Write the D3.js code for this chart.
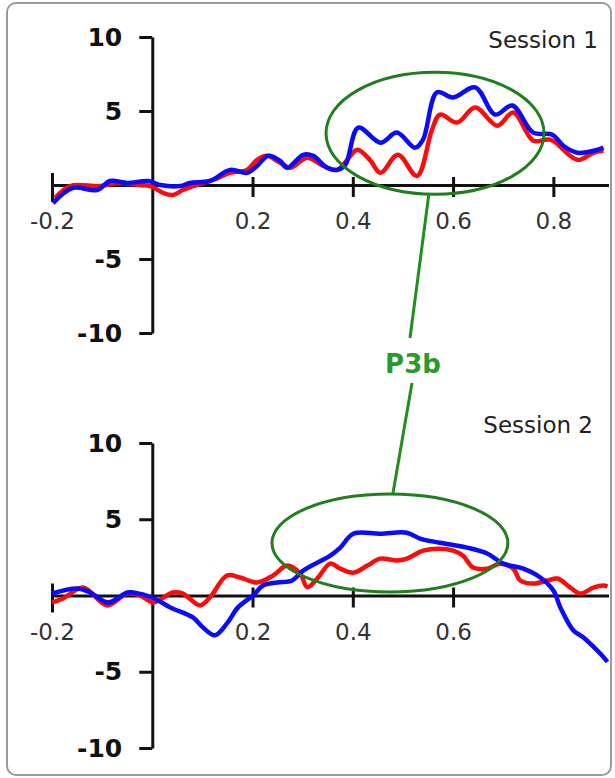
<!DOCTYPE html>
<html>
<head>
<meta charset="utf-8">
<script src="https://cdn.jsdelivr.net/npm/d3@7"></script>
<style>
body { margin: 0; background: #fff; }
</style>
</head>
<body>
<div id="picture"></div>
<script>
// session 1, [time (s), amplitude]
var s1Blue = [[-0.198,-1.22],[-0.158,-0.20],[-0.110,-0.34],[-0.084,0.27],[-0.050,0.14],[-0.008,0.27],
    [0.016,0],[0.056,-0.07],[0.075,0.14],[0.115,0.27],[0.155,1.02],[0.189,0.82],[0.209,1.29],[0.231,1.97],
    [0.255,1.63],[0.269,1.16],[0.301,2.04],[0.321,1.97],[0.349,1.16],[0.369,1.02],[0.385,1.36],[0.411,3.88],
    [0.455,2.86],[0.488,3.54],[0.524,2.52],[0.540,3.06],[0.568,6.26],[0.600,5.92],[0.644,6.60],[0.684,4.76],
    [0.718,5.37],[0.760,3.54],[0.798,3.40],[0.820,2.65],[0.848,2.18],[0.880,2.31],[0.900,2.52]];
var s1Red = [[-0.194,-0.88],[-0.164,-0.07],[-0.104,-0.07],[-0.070,0.14],[-0.024,0],[-0.004,-0.07],
    [0.022,-0.54],[0.041,-0.68],[0.061,-0.34],[0.089,0],[0.121,0.34],[0.155,0.82],[0.189,1.02],[0.209,1.70],
    [0.229,1.97],[0.255,1.50],[0.275,1.16],[0.309,1.84],[0.341,1.29],[0.369,1.02],[0.389,1.70],[0.409,2.38],
    [0.434,1.70],[0.455,0.82],[0.490,2.04],[0.528,0.61],[0.558,3.74],[0.574,4.76],[0.608,4.22],[0.644,5.24],
    [0.688,4.01],[0.720,4.90],[0.760,2.99],[0.794,3.06],[0.848,1.70],[0.880,2.18],[0.900,2.31]];
// session 2
var s2Blue = [[-0.200,0.13],[-0.150,0.46],[-0.124,0.20],[-0.088,-0.46],[-0.050,0.20],[-0.038,0.20],
    [0.000,-0.13],[0.036,-0.78],[0.081,-1.44],[0.101,-2.09],[0.125,-2.61],[0.149,-1.83],[0.171,-0.78],
    [0.201,0],[0.221,0.65],[0.249,0.85],[0.279,0.98],[0.301,1.63],[0.355,2.61],[0.375,3.14],[0.401,4.05],
    [0.455,4.05],[0.508,4.12],[0.534,3.73],[0.574,3.46],[0.628,3.14],[0.668,2.75],[0.700,2.09],[0.740,1.76],
    [0.774,1.18],[0.800,0.33],[0.814,-0.78],[0.840,-2.29],[0.860,-2.75],[0.893,-3.79],[0.908,-4.35]];
var s2Red = [[-0.200,-0.46],[-0.178,-0.20],[-0.138,0.52],[-0.090,-0.65],[-0.050,0.13],[-0.024,0],
    [0.002,-0.46],[0.041,0.20],[0.061,0.13],[0.095,-0.65],[0.115,-0.13],[0.149,1.31],[0.175,1.18],
    [0.209,0.85],[0.241,1.31],[0.269,1.96],[0.295,1.44],[0.309,0.55],[0.329,1.11],[0.355,2.09],[0.375,1.76],
    [0.401,1.50],[0.429,1.96],[0.455,2.42],[0.488,2.29],[0.508,2.42],[0.540,2.94],[0.574,3.07],[0.600,2.94],
    [0.620,2.61],[0.640,1.83],[0.668,1.76],[0.694,2.09],[0.720,1.76],[0.734,0.98],[0.760,0.78],[0.788,0.98],
    [0.808,1.11],[0.834,0.52],[0.854,0.13],[0.880,0.52],[0.900,0.65],[0.908,0.59]];

var yTicks = [-10, -5, 5, 10];
var xTicks1 = [-0.2, 0.2, 0.4, 0.6, 0.8];
var xTicks2 = [-0.2, 0.2, 0.4, 0.6];
var titles = ["Session 1", "Session 2"];
// P3b ellipses: [centre time, centre amplitude, half width (s), half height]
var p3b1 = [0.564, 3.5, 0.2174, 4.12];
var p3b2 = [0.474, 3.44, 0.2353, 3.21];

function draw() {
    "use strict";

    var width = 615, height = 778;

    var svg = d3.select("#picture")
        .append("svg")
        .attr("width", width)
        .attr("height", height);

    svg.append("rect")
        .attr("x", 7).attr("y", 3)
        .attr("width", 604).attr("height", 772)
        .attr("rx", 9)
        .attr("fill", "#fff")
        .attr("stroke", "#9a9a9a")
        .attr("stroke-width", 2);

    var x_scale = d3.scaleLinear().domain([-0.2, 0.91]).range([52, 608.5]);
    var y1 = d3.scaleLinear().domain([-10, 10]).range([333, 37]);
    var y2 = d3.scaleLinear().domain([-10, 10]).range([748, 443]);

    function panel(y_scale, xt, blue, red, title, titleX, titleY, ell) {
        var g = svg.append("g");

        var x_axis = d3.axisBottom(x_scale)
            .tickValues(xt)
            .tickSize(12)
            .tickSizeOuter(0)
            .tickFormat(function (d) { return String(d); });

        var gx = g.append("g")
            .attr("transform", "translate(0, " + y_scale(0) + ")")
            .call(x_axis);
        gx.attr("font-family", null).attr("font-size", null);
        gx.select(".domain").attr("stroke", "#111").attr("stroke-width", 3);
        gx.selectAll(".tick line")
            .attr("stroke", "#111").attr("stroke-width", 3)
            .attr("y1", function (d) { return d === -0.2 ? -12 : -8; })
            .attr("y2", function (d) { return d === -0.2 ? 17 : 12; });
        gx.selectAll(".tick text")
            .attr("y", 44).attr("dy", null)
            .attr("fill", "#333")
            .style("font-family", "'DejaVu Sans', Verdana, sans-serif")
            .style("font-size", "23px");

        var y_axis = d3.axisLeft(y_scale)
            .tickValues(yTicks)
            .tickSize(13)
            .tickSizeOuter(0)
            .tickPadding(17)
            .tickFormat(function (d) { return String(d); });

        var gy = g.append("g")
            .attr("transform", "translate(" + x_scale(0) + ", 0)")
            .call(y_axis);
        gy.attr("font-family", null).attr("font-size", null);
        gy.select(".domain").attr("stroke", "#111").attr("stroke-width", 3);
        gy.selectAll(".tick line").attr("stroke", "#111").attr("stroke-width", 3);
        gy.selectAll(".tick text")
            .attr("fill", "#111")
            .style("font-family", "'DejaVu Sans', Verdana, sans-serif")
            .style("font-weight", "bold")
            .style("font-size", "25px");

        var line = d3.line()
            .x(function (d) { return x_scale(d[0]); })
            .y(function (d) { return y_scale(d[1]); })
            .curve(d3.curveCatmullRom.alpha(0.5));

        g.append("path")
            .attr("d", line(red))
            .attr("fill", "none")
            .attr("stroke", "#ff0a0a")
            .attr("stroke-width", 4.5)
            .attr("stroke-linejoin", "round");

        g.append("path")
            .attr("d", line(blue))
            .attr("fill", "none")
            .attr("stroke", "#0a0aff")
            .attr("stroke-width", 4.5)
            .attr("stroke-linejoin", "round");

        g.append("text")
            .text(title)
            .attr("x", titleX)
            .attr("y", titleY)
            .attr("text-anchor", "end")
            .attr("fill", "#222")
            .style("font-family", "'DejaVu Sans', Verdana, sans-serif")
            .style("font-size", "23px");

        g.append("ellipse")
            .attr("cx", x_scale(ell[0]))
            .attr("cy", y_scale(ell[1]))
            .attr("rx", x_scale(ell[2]) - x_scale(0))
            .attr("ry", y_scale(0) - y_scale(ell[3]))
            .attr("fill", "none")
            .attr("stroke", "#1f7f1f")
            .attr("stroke-width", 3);
    }

    panel(y1, xTicks1, s1Blue, s1Red, titles[0], 598, 48, p3b1);
    panel(y2, xTicks2, s2Blue, s2Red, titles[1], 593, 433, p3b2);

    // P3b label and its leader lines
    svg.append("line")
        .attr("x1", 429).attr("y1", 193)
        .attr("x2", 410).attr("y2", 338)
        .attr("stroke", "#1f8f1f").attr("stroke-width", 3);
    svg.append("line")
        .attr("x1", 412).attr("y1", 383)
        .attr("x2", 393).attr("y2", 493)
        .attr("stroke", "#1f8f1f").attr("stroke-width", 3);
    svg.append("text")
        .text("P3b")
        .attr("x", 413)
        .attr("y", 373)
        .attr("text-anchor", "middle")
        .attr("fill", "#2a9a2a")
        .style("font-family", "'DejaVu Sans', Verdana, sans-serif")
        .style("font-weight", "bold")
        .style("font-size", "26px");
}

draw();
</script>
</body>
</html>
